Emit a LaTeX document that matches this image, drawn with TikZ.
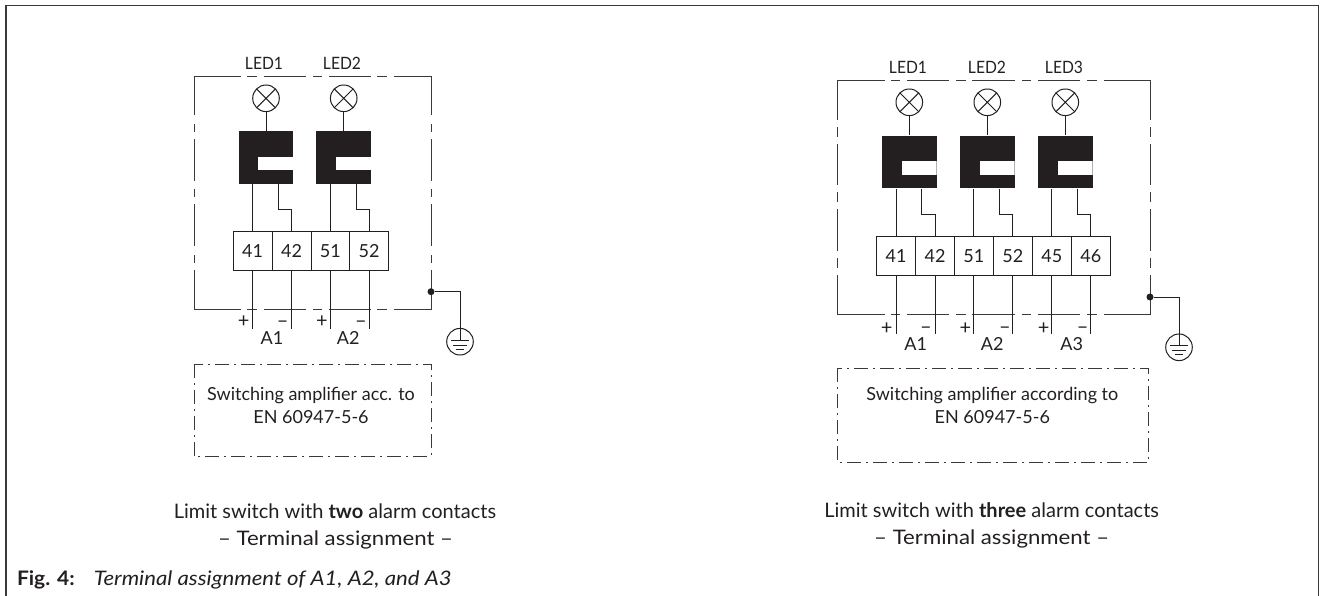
\documentclass[tikz,border=0pt]{standalone}
\usepackage{fontspec}
\setmainfont{Lato}
\definecolor{ink}{HTML}{231F20}
\definecolor{soft}{HTML}{3A3A3A}
\newcommand{\xs}[2]{\scalebox{#1}[1]{#2}}
\tikzset{
  wire/.style={line width=1pt,draw=ink},
  framesty/.style={line width=1.6pt,draw=soft},
  dashbox/.style={line width=1pt,draw=soft,line cap=rect},
  ampbox/.style={line width=1pt,draw=soft,dash pattern=on 14pt off 5pt on 2pt off 5pt},
  lbl/.style={anchor=base,inner sep=0pt,text=ink,font=\fontsize{18}{21}\selectfont},
  caplbl/.style={lbl,font=\fontsize{20}{23}\selectfont},
  led/.style={circle,draw=ink,line width=1pt,minimum size=26.6pt,inner sep=0pt,
    path picture={\draw[line width=1pt,ink] (path picture bounding box.north west)--(path picture bounding box.south east)
      (path picture bounding box.north east)--(path picture bounding box.south west);}},
  relay/.style={fill=ink,minimum width=54.6pt,minimum height=52.7pt,inner sep=0pt,
    path picture={\fill[white] ([xshift=-7.7pt,yshift=1pt]path picture bounding box.center) rectangle ([xshift=29pt,yshift=-12.7pt]path picture bounding box.center);}},
  term/.style={draw=ink,line width=1pt,minimum height=39pt,inner sep=0pt,text=ink,
    text height=12pt,text depth=0pt,font=\fontsize{18}{21}\selectfont},
  joint/.style={circle,fill=ink,minimum size=7pt,inner sep=0pt},
  earth/.style={circle,draw=ink,line width=1pt,minimum size=26.6pt,inner sep=0pt,
    path picture={\draw[line width=1pt,ink]
      (path picture bounding box.north) -- ([yshift=1.7pt]path picture bounding box.center)
      ([xshift=-8.7pt,yshift=1.7pt]path picture bounding box.center) -- ([xshift=8.7pt,yshift=1.7pt]path picture bounding box.center)
      ([xshift=-6.7pt,yshift=-3.3pt]path picture bounding box.center) -- ([xshift=6.7pt,yshift=-3.3pt]path picture bounding box.center)
      ([xshift=-4pt,yshift=-7.3pt]path picture bounding box.center) -- ([xshift=4pt,yshift=-7.3pt]path picture bounding box.center);}},
  ledlbl/.style={lbl,font=\fontsize{17}{20}\selectfont},
  sign/.style={lbl,font=\fontsize{20}{22}\selectfont},
}
\begin{document}
\begin{tikzpicture}[x=1pt,y=-1pt]
\useasboundingbox (0,0) rectangle (1325,596);
% outer frame
\draw[framesty] (5.7,596) -- (5.7,5.5) -- (1318.3,5.5) -- (1318.3,596);

% ---------- left diagram ----------
\foreach \a/\b in {194/240.7,247.7/256.7,264.3/305.7,313.3/321.7,329/370,377.7/386,394/431}{
  \draw[dashbox] (\a,77) -- (\b,77);
  \draw[dashbox] (\a,309.3) -- (\b,309.3);}
\foreach \a/\b in {77/115,125/131.7,140/180.7,190/197,205/245.7,255/262,270/309.3}{
  \draw[dashbox] (194,\a) -- (194,\b);
  \draw[dashbox] (431,\a) -- (431,\b);}
\draw[ampbox] (194,364) rectangle (431,456.7);

\node[ledlbl] (la1) at (264,69.5) {\xs{0.92}{LED1}};
\node[ledlbl] (la2) at (342,69.5) {\xs{0.92}{LED2}};
\node[led] (L1) at (266,98.3) {};
\node[led] (L2) at (343.7,98.3) {};
\node[relay] (R1) at (266,157.7) {};
\node[relay] (R2) at (343.7,157.7) {};
\node[term,minimum width=38.7pt] (T41) at (252.65,251.2) {41};
\node[term,minimum width=39pt] (T42) at (291.5,251.2) {42};
\node[term,minimum width=38.7pt] (T51) at (330.35,251.2) {51};
\node[term,minimum width=38.6pt] (T52) at (369,251.2) {52};
\coordinate (p41) at (252.65,328.7);
\coordinate (p42) at (291.5,328.7);
\coordinate (p51) at (330.35,328.7);
\coordinate (p52) at (369,328.7);
\draw[wire] (L1) -- (R1);
\draw[wire] (L2) -- (R2);
\draw[wire] (T41.north) -- (T41.north |- R1.south);
\draw[wire] (T51.north) -- (T51.north |- R2.south);
\draw[wire] ([xshift=12.3pt]R1.south) |- ([yshift=21.7pt]T42.north) -- (T42.north);
\draw[wire] ([xshift=12.3pt]R2.south) |- ([yshift=21.7pt]T52.north) -- (T52.north);
\draw[wire] (T41.south) -- (p41);
\draw[wire] (T42.south) -- (p42);
\draw[wire] (T51.south) -- (p51);
\draw[wire] (T52.south) -- (p52);
\node[sign] (pa) at (243.7,327.5) {+};
\node[sign] (ma) at (282.7,327) {–};
\node[sign] (pb) at (322,327.5) {+};
\node[sign] (mb) at (361,327) {–};
\node[lbl] (a1) at (272,344.3) {A1};
\node[lbl] (a2) at (348.3,344.3) {A2};
\node[joint] (J1) at (431,291.7) {};
\node[earth] (E1) at (460,341.7) {};
\draw[wire] (J1) -| (E1.north);
\node[lbl] (s1a) at (311,400) {Switching amplifier acc. to};
\node[lbl] (s1b) at (311,423.3) {EN 60947-5-6};
\node[caplbl] (c1a) at (335,518) {Limit switch with \textbf{two} alarm contacts};
\node[caplbl] (c1b) at (335.5,545) {\xs{1.11}{– Terminal assignment –}};

% ---------- right diagram ----------
\foreach \a/\b in {837/884,891/899.7,907.3/948.7,956.7/965,972.7/1014,1022/1030.7,1038.3/1079.7,1087.7/1096.3,1104/1150}{
  \draw[dashbox] (\a,81) -- (\b,81);
  \draw[dashbox] (\a,314) -- (\b,314);}
\foreach \a/\b in {81/120,128/136.7,145/185,193/201.7,210/250,258/267,275/314}{
  \draw[dashbox] (837,\a) -- (837,\b);
  \draw[dashbox] (1150,\a) -- (1150,\b);}
\draw[ampbox] (837.3,368.3) rectangle (1148,462.7);

\node[ledlbl] (lb1) at (908,73.5) {\xs{0.92}{LED1}};
\node[ledlbl] (lb2) at (987,73.5) {\xs{0.92}{LED2}};
\node[ledlbl] (lb3) at (1064,73.5) {\xs{0.92}{LED3}};
\node[led] (M1) at (909.3,102.3) {};
\node[led] (M2) at (987.3,102.3) {};
\node[led] (M3) at (1065.3,102.3) {};
\node[relay] (S1) at (909.3,162) {};
\node[relay] (S2) at (987.3,162) {};
\node[relay] (S3) at (1065.3,162) {};
\node[term,minimum width=39.4pt] (U41) at (896,256) {41};
\node[term,minimum width=38.6pt] (U42) at (935,256) {42};
\node[term,minimum width=39pt] (U51) at (973.8,256) {51};
\node[term,minimum width=39pt] (U52) at (1012.8,256) {52};
\node[term,minimum width=39pt] (U45) at (1051.8,256) {45};
\node[term,minimum width=39pt] (U46) at (1090.8,256) {46};
\coordinate (q41) at (896,334);
\coordinate (q42) at (935,334);
\coordinate (q51) at (973.8,334);
\coordinate (q52) at (1012.8,334);
\coordinate (q45) at (1051.8,334);
\coordinate (q46) at (1090.8,334);
\draw[wire] (M1) -- (S1);
\draw[wire] (M2) -- (S2);
\draw[wire] (M3) -- (S3);
\draw[wire] (U41.north) -- (U41.north |- S1.south);
\draw[wire] (U51.north) -- (U51.north |- S2.south);
\draw[wire] (U45.north) -- (U45.north |- S3.south);
\draw[wire] ([xshift=12.3pt]S1.south) |- ([yshift=21.5pt]U42.north) -- (U42.north);
\draw[wire] ([xshift=12.3pt]S2.south) |- ([yshift=21.5pt]U52.north) -- (U52.north);
\draw[wire] ([xshift=12.3pt]S3.south) |- ([yshift=21.5pt]U46.north) -- (U46.north);
\foreach \n in {41,42,51,52,45,46}{\draw[wire] (U\n.south) -- (q\n);}
\node[sign] (pc) at (886.7,334) {+};
\node[sign] (mc) at (926,333.5) {–};
\node[sign] (pd) at (965.3,334) {+};
\node[sign] (md) at (1005,333.5) {–};
\node[sign] (pe) at (1043.7,334) {+};
\node[sign] (me) at (1082.7,333.5) {–};
\node[lbl] (b1) at (915.7,350.7) {A1};
\node[lbl] (b2) at (992.3,350.7) {A2};
\node[lbl] (b3) at (1071.7,350.7) {A3};
\node[joint] (J2) at (1150,297) {};
\node[earth] (E2) at (1179,347.3) {};
\draw[wire] (J2) -| (E2.north);
\node[lbl] (s2a) at (992.3,400) {Switching amplifier according to};
\node[lbl] (s2b) at (992.3,423.3) {EN 60947-5-6};
\node[caplbl] (c2a) at (991.7,517) {Limit switch with \textbf{three} alarm contacts};
\node[caplbl] (c2b) at (991.7,544) {\xs{1.11}{– Terminal assignment –}};

% caption
\node[caplbl,anchor=base west] (figa) at (16.8,585) {\xs{1.05}{\textbf{Fig. 4:}}};
\node[caplbl,anchor=base west] (figb) at (93.6,585) {\xs{1.11}{\textit{Terminal assignment of A1, A2, and A3}}};
\end{tikzpicture}
\end{document}
